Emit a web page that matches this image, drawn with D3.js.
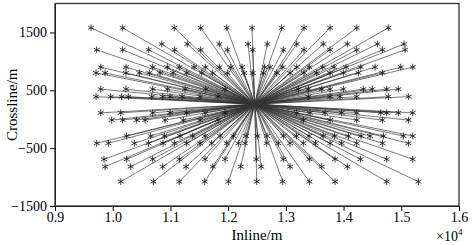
<!DOCTYPE html>
<html>
<head>
<meta charset="utf-8">
<script src="https://cdn.jsdelivr.net/npm/d3@7"></script>
<style>
  body { margin: 0; background: #fff; }
  svg { display: block; }
  .axis text { font-family: "Liberation Serif", "DejaVu Serif", serif; font-size: 14px; fill: #000; }
  .axis path, .axis line { stroke: #000; }
</style>
</head>
<body>
<div id="chart"></div>
<script>
// centre of the spread (shot location), metres
const centre = [12460, 260];

// endpoint rows: crossline value + inline values of the receivers (metres)
const rowY = [1580, 1300, 1200, 900, 800, 520, 390, 110, -15, -290, -416, -692, -820, -1079];
const rowX = [
  [9624, 10173, 11067, 11525, 11976, 12414, 12929, 13315, 13766, 14228, 14776],
  [10849, 11293, 11847, 12345, 12679, 13189, 13650, 14066, 14586, 15048],
  [9723, 10173, 10624, 11074, 11525, 11986, 12426, 12956, 13315, 13766, 14228, 14672, 15066],
  [9792, 10230, 10693, 10946, 11154, 11409, 11605, 11847, 12045, 12241, 12634, 12726, 12946, 13189, 13407, 13639, 13835, 14043, 14298, 14546, 14991, 15199],
  [9711, 9867, 10230, 10461, 10634, 10820, 11045, 11282, 11542, 11733, 11986, 12275, 12426, 12610, 12842, 13073, 13315, 13535, 13766, 13996, 14256, 14672],
  [9792, 10230, 10693, 10946, 11253, 11612, 11946, 13216, 13390, 13622, 13766, 13996, 14343, 14499, 14748, 14949],
  [9711, 9965, 10156, 10270, 10676, 10866, 10993, 11201, 11513, 11825, 13390, 13766, 13939, 14228, 14776, 15129],
  [9792, 10139, 10693, 10993, 11282, 11600, 11946, 13189, 13419, 13679, 13968, 14228, 14644, 14748, 14949, 15199],
  [9983, 10173, 10416, 10560, 10906, 11223, 11513, 11825, 13303, 13766, 14228, 14672, 15123],
  [10242, 10658, 10894, 11166, 11386, 11600, 11860, 12090, 12310, 12506, 12674, 12956, 13182, 13402, 13645, 13847, 14083, 14303, 14459, 14690, 15036, 15199],
  [9723, 9924, 10374, 10620, 10872, 11067, 11282, 11513, 11716, 11976, 12177, 12293, 12669, 12870, 13073, 13303, 13515, 13766, 13968, 14228, 14676, 15123],
  [9849, 10242, 10693, 11154, 11600, 11946, 12489, 12956, 13407, 13852, 14294, 14748, 15199],
  [9867, 10312, 10866, 11270, 11733, 12218, 12573, 13073, 13622, 14066],
  [10140, 10704, 11152, 11594, 12003, 12496, 12946, 13407, 13852, 14748, 15296]
];

const xTicks = [9000, 10000, 11000, 12000, 13000, 14000, 15000, 16000];
const yTicks = [-1500, -500, 500, 1500];

const W = 473, H = 245;
const margin = {top: 3.5, right: 14, bottom: 39, left: 55};
const w = W - margin.left - margin.right,
      h = H - margin.top - margin.bottom;

const svg = d3.select("#chart").append("svg")
    .attr("width", W).attr("height", H);

const g = svg.append("g")
    .attr("transform", "translate(" + margin.left + "," + margin.top + ")");

const x = d3.scaleLinear().domain([9000, 16000]).range([0, w]);
const y = d3.scaleLinear().domain([-1500, 2000]).range([h, 0]);

const points = [];
rowY.forEach((yy, i) => rowX[i].forEach(xx => points.push([xx, yy])));

g.selectAll(".ray")
  .data(points)
  .enter().append("line")
    .attr("class", "ray")
    .attr("x1", x(centre[0])).attr("y1", y(centre[1]))
    .attr("x2", d => x(d[0])).attr("y2", d => y(d[1]))
    .attr("stroke", "#333")
    .attr("stroke-width", 0.65);

const star = d3.symbol().type(d3.symbolAsterisk).size(32);
g.selectAll(".star")
  .data(points)
  .enter().append("path")
    .attr("class", "star")
    .attr("transform", d => "translate(" + x(d[0]) + "," + y(d[1]) + ")")
    .attr("d", star)
    .attr("fill", "none")
    .attr("stroke", "#111")
    .attr("stroke-width", 0.8);

g.append("g")
    .attr("class", "axis")
    .attr("transform", "translate(0," + h + ")")
    .call(d3.axisBottom(x).tickValues(xTicks).tickSize(5).tickSizeOuter(0).tickPadding(1)
      .tickFormat(d => d3.format(".1f")(d / 1e4)));

g.append("g")
    .attr("class", "axis")
    .call(d3.axisLeft(y).tickValues(yTicks).tickSize(5).tickSizeOuter(0).tickPadding(3)
      .tickFormat(d3.format("d")));

// frame
g.append("rect")
    .attr("width", w).attr("height", h)
    .attr("fill", "none")
    .attr("stroke", "#333")
    .attr("stroke-width", 1.3);

const serif = '"Liberation Serif", "DejaVu Serif", serif';

svg.append("text")
    .attr("x", margin.left + w / 2).attr("y", 240)
    .attr("text-anchor", "middle")
    .style("font", "15px " + serif)
    .text("Inline/m");

svg.append("text")
    .attr("transform", "translate(17," + (margin.top + h / 2) + ") rotate(-90)")
    .attr("text-anchor", "middle")
    .style("font", "15px " + serif)
    .text("Crossline/m");

const mult = svg.append("text")
    .attr("x", 436).attr("y", 241)
    .style("font", "14px " + serif);
mult.append("tspan").text("\u00d710");
mult.append("tspan").attr("dy", -6).style("font-size", "9px").text("4");
</script>
</body>
</html>
